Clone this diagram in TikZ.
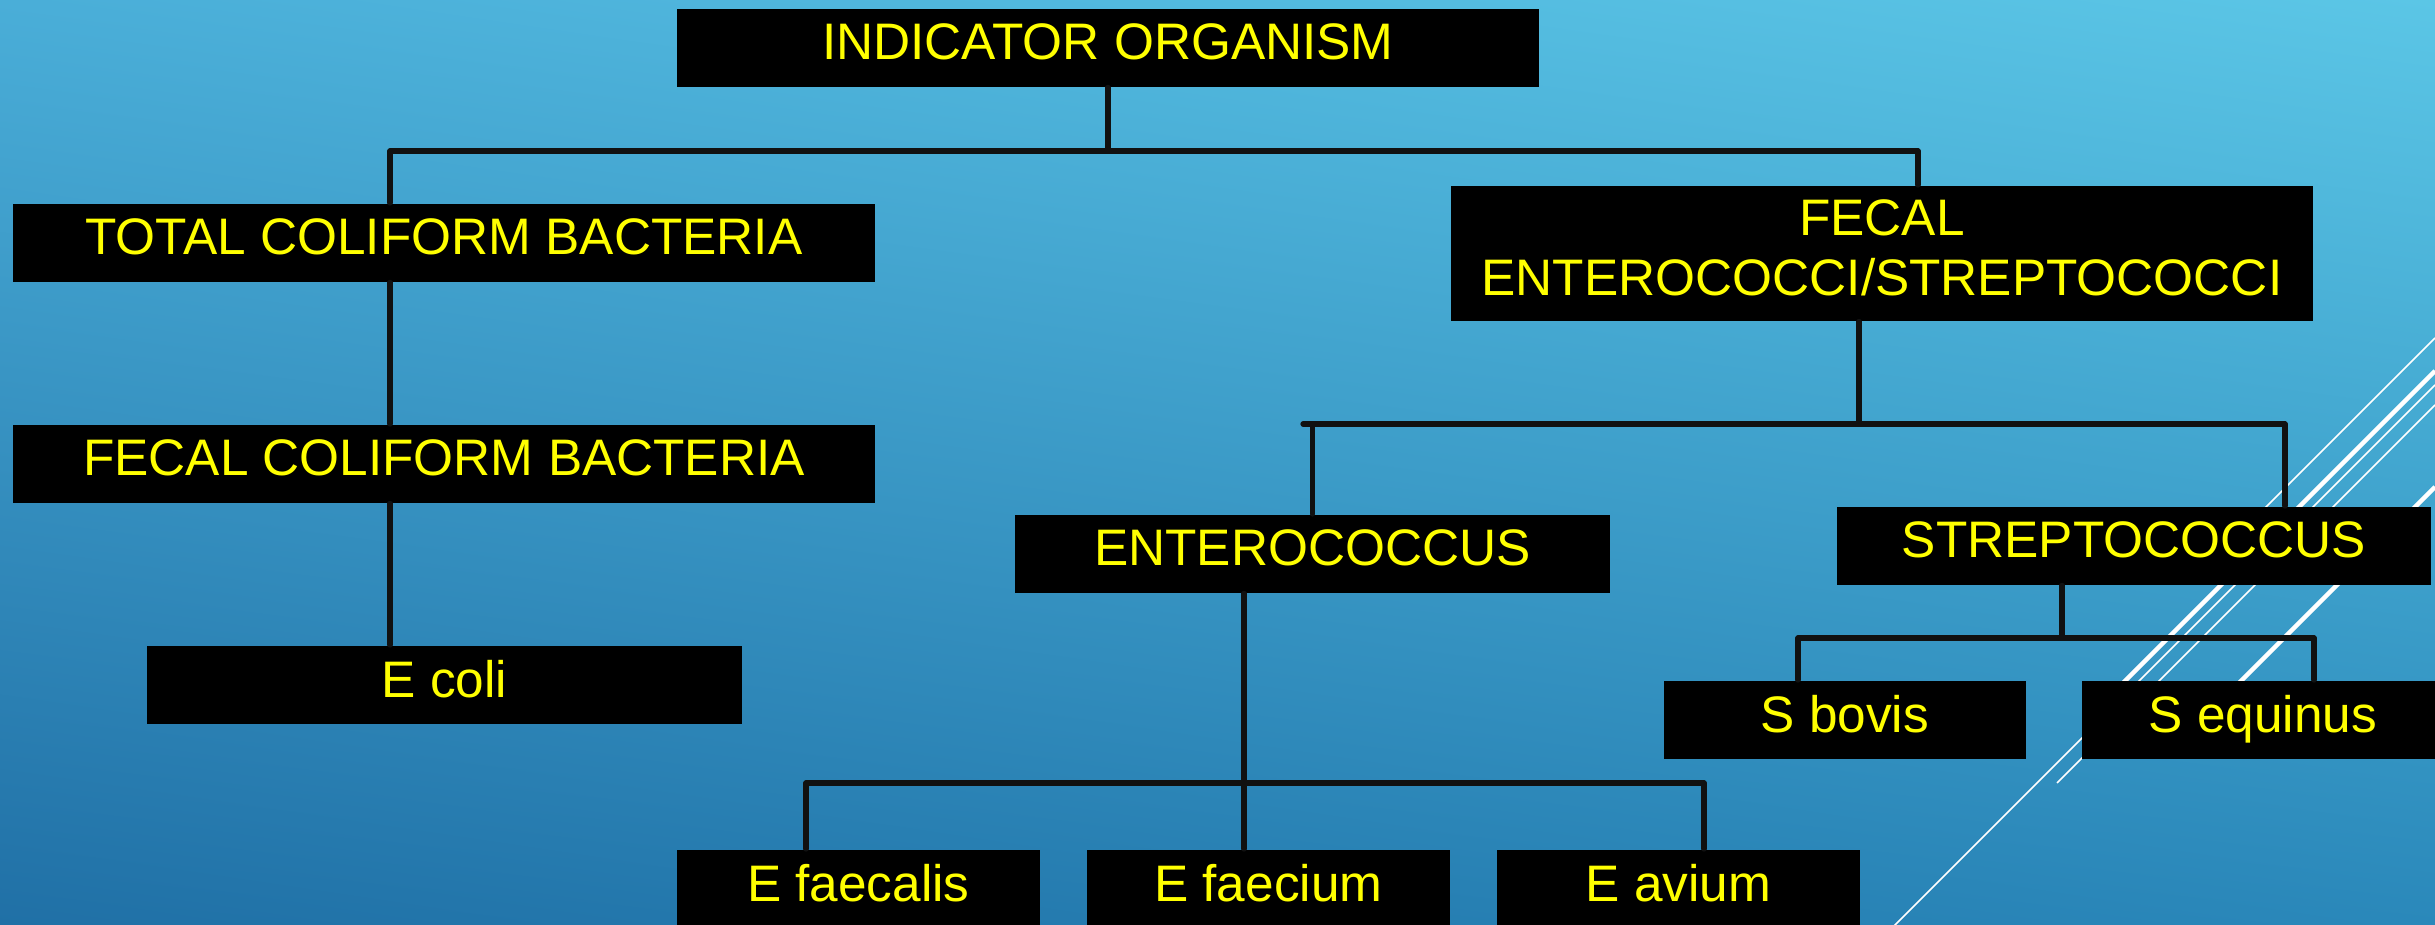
\documentclass[tikz,border=0pt]{standalone}
\usepackage{fontspec}
\setmainfont{Liberation Sans}
\usetikzlibrary{shadings}
\definecolor{bgUL}{HTML}{4AAED8}
\definecolor{bgUR}{HTML}{5BC6E6}
\definecolor{bgLL}{HTML}{2070A6}
\definecolor{bgLR}{HTML}{2A88BA}
\definecolor{txtyellow}{HTML}{FFFF00}
\definecolor{linkblack}{HTML}{111111}
\begin{document}
\begin{tikzpicture}[x=0.01cm,y=-0.01cm,
  box/.style={fill=black, text=txtyellow, inner sep=0pt, anchor=north west,
    minimum height=0.78cm, text depth=3.4pt, font=\fontsize{14.6}{17}\selectfont},
  conn/.style={draw=linkblack, line width=1.5pt, line cap=round},
  thinw/.style={draw=white, line width=0.45pt},
  thickw/.style={draw=white, line width=1.3pt}]
\useasboundingbox (0,0) rectangle (2435,925);
\clip (0,0) rectangle (2435,925);
\shade[upper left=bgUL, upper right=bgUR, lower left=bgLL, lower right=bgLR] (0,0) rectangle (2435,925);

% decorative white diagonals
\draw[thinw] (2240,533) -- (2435,338);
\draw[thickw] (2100,706) -- (2435,371);
\draw[thinw] (1880,940) -- (2435,385);
\draw[thinw] (2057,783) -- (2435,405);
\draw[thickw] (2200,722) -- (2435,487);

% boxes
\node[box, minimum width=8.62cm] (ind) at (676,8) {INDICATOR ORGANISM};
\node[box, minimum width=8.62cm] (tot) at (12,203) {TOTAL COLIFORM BACTERIA};
\node[box, minimum width=8.62cm, minimum height=1.35cm, align=center] (fes) at (1450,185) {FECAL\\ENTEROCOCCI/STREPTOCOCCI};
\node[box, minimum width=8.62cm] (fcb) at (12,424) {FECAL COLIFORM BACTERIA};
\node[box, minimum width=5.95cm] (ecoli) at (146,645) {E coli};
\node[box, minimum width=5.95cm] (ent) at (1014,514) {ENTEROCOCCUS};
\node[box, minimum width=5.94cm] (str) at (1836,506) {STREPTOCOCCUS};
\node[box, minimum width=3.62cm] (sbov) at (1663,680) {S bovis};
\node[box, minimum width=3.62cm] (sequ) at (2081,680) {S equinus};
\node[box, minimum width=3.63cm] (efl) at (676,849) {E faecalis};
\node[box, minimum width=3.63cm] (efm) at (1086,849) {E faecium};
\node[box, minimum width=3.63cm] (eav) at (1496,849) {E avium};

% connectors
\coordinate (b1L) at (390,151);
\coordinate (b1R) at (1918,151);
\draw[conn] (ind.south) -- (ind.south |- b1L);
\draw[conn] (b1L) -- (b1R);
\draw[conn] (b1L) -- (b1L |- tot.north);
\draw[conn] (b1R) -- (b1R |- fes.north);
\draw[conn] (tot.south -| b1L) -- (fcb.north -| b1L);
\draw[conn] (fcb.south -| b1L) -- (ecoli.north -| b1L);

\coordinate (fesdrop) at (1859,424);
\coordinate (b2L) at (1303,424);
\coordinate (b2R) at (2285,424);
\draw[conn] (fesdrop |- fes.south) -- (fesdrop);
\draw[conn] (b2L) -- (b2R);
\draw[conn] (ent.north |- b2L) -- (ent.north);
\draw[conn] (b2R) -- (b2R |- str.north);

\coordinate (b3c) at (2062,638);
\coordinate (b3L) at (1798,638);
\coordinate (b3R) at (2314,638);
\draw[conn] (b3c |- str.south) -- (b3c);
\draw[conn] (b3L) -- (b3R);
\draw[conn] (b3L) -- (b3L |- sbov.north);
\draw[conn] (b3R) -- (b3R |- sequ.north);

\coordinate (b4c) at (1244,783);
\coordinate (b4L) at (806,783);
\coordinate (b4R) at (1704,783);
\draw[conn] (b4c |- ent.south) -- (b4c |- efm.north);
\draw[conn] (b4L) -- (b4R);
\draw[conn] (b4L) -- (b4L |- efl.north);
\draw[conn] (b4R) -- (b4R |- eav.north);
\end{tikzpicture}
\end{document}
